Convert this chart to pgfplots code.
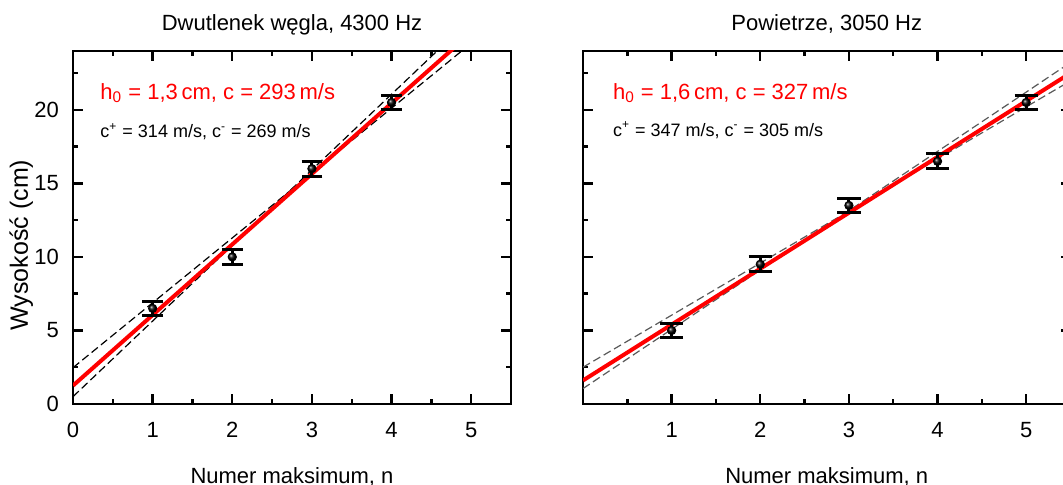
\documentclass[border=0pt]{standalone}
\usepackage{fontspec}
\setmainfont{Liberation Sans}
\usepackage{pgfplots}
\pgfplotsset{compat=1.18}

\newcommand{\fbig}{\fontsize{11}{13}\selectfont}
\newcommand{\fsmall}{\fontsize{9}{11}\selectfont}

\tikzset{note/.style={anchor=base west, inner sep=0pt}}

\pgfplotsset{
  panel/.style={
    scale only axis, height=176.5pt,
    xmin=0, xmax=5.5, ymin=0, ymax=24,
    axis line style={line width=1.2pt},
    tick style={line width=1.2pt, black},
    tick align=inside,
    major tick length=5pt, minor tick length=2.5pt,
    ytick={0,5,...,20}, minor ytick={2.5,7.5,...,22.5},
    minor xtick={0.5,1.5,...,4.5},
    tick label style={font=\fbig},
    /pgf/number format/assume math mode=true,
    xticklabel style={yshift=-5.5pt},
    yticklabel style={xshift=-3.5pt},
    label style={font=\fbig},
    every axis title shift=0pt,
    title style={font=\fbig, at={(axis description cs:0.5,1.0567)}, anchor=base},
    xlabel style={at={(axis description cs:0.5,-0.224)}, anchor=base},
  },
  fit/.style={red, line width=2pt},
  bound/.style={line width=0.6pt, dash pattern=on 4pt off 2pt},
  pts/.style={only marks, mark=ball, mark size=2.1pt, mark options={ball color=black},
    error bars/.cd, y dir=both, y explicit, error mark=|,
    error bar style={line width=1.5pt, black},
    error mark options={line width=1.5pt, black, mark size=#1}},
}

\begin{document}
\begin{tikzpicture}

% dwutlenek wegla
\begin{axis}[panel, width=219pt, at={(0pt,0pt)}, anchor=south west,
    xtick={0,...,5},
    title={Dwutlenek węgla, 4300 Hz},
    xlabel={Numer maksimum, n},
    ylabel={Wysokość (cm)},
    ylabel style={at={(axis description cs:-0.118,0.45)}, anchor=center,
      font=\fontsize{12.5}{14}\selectfont}]
  \addplot[bound, black] coordinates {(0,2.47) (5.5,26.73)};
  \addplot[bound, black] coordinates {(0,0.5) (5.5,28.77)};
  \addplot[fit] coordinates {(0,1.25) (5.5,27.65)};
  \addplot[pts=5.2pt] coordinates {
    (1,6.5) +- (0,0.5)
    (2,10.0) +- (0,0.5)
    (3,16.0) +- (0,0.5)
    (4,20.5) +- (0,0.5)
  };
  \node[note, text=red, font=\fbig] at (axis cs:0.34,20.7)
    {h\textsubscript{0} = 1,3\,cm, c = 293\,m/s};
  \node[note, font=\fsmall] at (axis cs:0.34,18.1)
    {c\textsuperscript{+} = 314 m/s, c\textsuperscript{-} = 269 m/s};
\end{axis}

% powietrze
\begin{axis}[panel, width=243.75pt, at={(255pt,0pt)}, anchor=south west,
    xtick={1,...,5}, yticklabels={},
    title={Powietrze, 3050 Hz},
    xlabel={Numer maksimum, n}]
  \addplot[bound, black!65] coordinates {(0,2.5) (5.5,21.97)};
  \addplot[bound, black!65] coordinates {(0,1.05) (5.5,23.22)};
  \addplot[fit] coordinates {(0,1.6) (5.5,22.5)};
  \addplot[pts=5.8pt] coordinates {
    (1,5.0) +- (0,0.5)
    (2,9.5) +- (0,0.5)
    (3,13.5) +- (0,0.5)
    (4,16.5) +- (0,0.5)
    (5,20.5) +- (0,0.5)
  };
  \node[note, text=red, font=\fbig] at (axis cs:0.334,20.7)
    {h\textsubscript{0} = 1,6\,cm, c = 327\,m/s};
  \node[note, font=\fsmall] at (axis cs:0.334,18.2)
    {c\textsuperscript{+} = 347 m/s, c\textsuperscript{-} = 305 m/s};
\end{axis}

\pgfresetboundingbox
\path[use as bounding box] (-36.5pt,-40.5pt) rectangle (495pt,202pt);
\end{tikzpicture}
\end{document}
